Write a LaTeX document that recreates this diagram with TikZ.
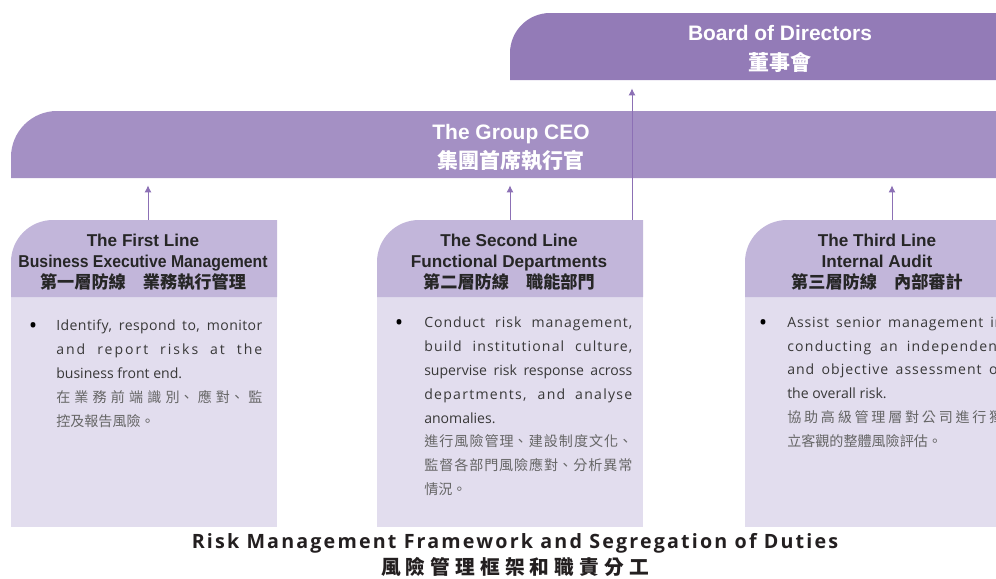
\documentclass[tikz,border=0pt]{standalone}
\usepackage{graphicx}
\usepackage{fontspec}
\setmainfont{Open Sans}
\newfontfamily\arialbf{Liberation Sans}
\newfontfamily\cjk{Noto Sans CJK TC}
\usetikzlibrary{arrows.meta}
\XeTeXlinebreaklocale "zh"
\XeTeXlinebreakskip=0pt plus 2pt
\hbadness=10000

\definecolor{boardc}{HTML}{937BB7}
\definecolor{ceoc}{HTML}{A490C4}
\definecolor{headc}{HTML}{C2B6DA}
\definecolor{bodyc}{HTML}{E2DDEE}
\definecolor{arrowc}{HTML}{8C70B5}
\definecolor{engc}{HTML}{383838}
\definecolor{zhc}{HTML}{666666}
\definecolor{titlec}{HTML}{231F20}

\newcommand{\spread}[2]{{\addfontfeatures{LetterSpace=#1}#2}}

\tikzset{
  bartext/.style={text=white, font=\arialbf\bfseries\fontsize{14.9}{20.8}\selectfont,
    align=center, inner sep=0pt, minimum height=1.675cm},
  headtext/.style={text=black!85, font=\arialbf\bfseries\fontsize{12.2}{14.9}\selectfont,
    align=center, inner sep=0pt},
  bodytext/.style={text=engc, font=\fontsize{10}{17}\selectfont, align=justify,
    inner sep=0pt, anchor=north west, text width=5.2cm},
  bulletdot/.style={text=black, font=\fontsize{16}{17}\selectfont, inner sep=0pt, anchor=base},
  titletext/.style={text=titlec, font=\bfseries\fontsize{14}{17}\selectfont, inner sep=0pt},
  arr/.style={draw=arrowc, line width=0.7pt, -{Latex[length=5pt,width=5pt]}},
}

\begin{document}
\begin{tikzpicture}[x=0.025cm, y=-0.025cm]
    \useasboundingbox (0,0) rectangle (996,579);
    \clip (0,0) rectangle (996,579);

    % bars
    \fill[boardc] (510,80) -- (510,53) .. controls (510,31) and (528,13) .. (550,13)
          -- (1050,13) -- (1050,80) -- cycle;
    \fill[ceoc] (11,178) -- (11,157) .. controls (11,131.6) and (31.6,111) .. (57,111)
          -- (1011,111) -- (1011,178) -- cycle;

    % three lines of defence
    \foreach \x in {11,377,745} {
      \fill[bodyc] (\x,297) rectangle (\x+266,527);
      \fill[headc] (\x,297) -- (\x,262) .. controls (\x,238.8) and (\x+18.8,220) .. (\x+42,220)
            -- (\x+266,220) -- (\x+266,297) -- cycle;
    }

    \node[bartext, minimum width=13.5cm] (board) at (780,49)
          {Board of Directors\\{\cjk 董事會}};
    \node[bartext, minimum width=25cm] (ceo) at (511,148)
          {The Group CEO\\{\cjk 集團首席執行官}};

    \node[headtext] (hdA) at (143,262)
          {The First Line\\\scalebox{0.92}[1]{Business Executive Management}\\{\cjk 第一層防線\quad 業務執行管理}};
    \node[headtext] (hdB) at (509,262)
          {The Second Line\\Functional Departments\\{\cjk 第二層防線\quad 職能部門}};
    \node[headtext] (hdC) at (877,262)
          {The Third Line\\Internal Audit\\{\cjk 第三層防線\quad 內部審計}};

    \node[bulletdot] (dtA) at (33,333) {•};
    \node[bodytext, text width=5.15cm] (txA) at (56,319.5)
          {\spread{3}{Identify, respond to, monitor}\linebreak \spread{14}{and report risks at the}\linebreak
           business front end.\\{\cjk\color{zhc}在業務前端識別、應對、監\linebreak 控及報告風險。}};
    \node[bulletdot] (dtB) at (399,330) {•};
    \node[bodytext] (txB) at (424,316.5)
          {\spread{7}{Conduct risk management,}\linebreak \spread{8}{build institutional culture,}\linebreak
           supervise risk response across\linebreak \spread{9}{departments, and analyse}\linebreak
           anomalies.\\{\cjk\color{zhc}進行風險管理、建設制度文化、\linebreak 監督各部門風險應對、分析異常\linebreak 情況。}};
    \node[bulletdot] (dtC) at (763,330) {•};
    \node[bodytext, text width=5.4cm] (txC) at (787,316.5)
          {\spread{6}{Assist senior management in}\linebreak \spread{9}{conducting an independent}\linebreak
           \spread{7}{and objective assessment of}\linebreak the overall risk.\\{\cjk\color{zhc}協助高級管理層對公司進行獨\linebreak 立客觀的整體風險評估。}};

    % reporting lines
    \coordinate (upA) at (148,220);
    \coordinate (upB) at (510,220);
    \coordinate (upC) at (892,220);
    \coordinate (upD) at (632,220);
    \draw[arr, shorten >=0.09cm] (upA) -- (upA |- ceo.south);
    \draw[arr, shorten >=0.09cm] (upB) -- (upB |- ceo.south);
    \draw[arr, shorten >=0.09cm] (upC) -- (upC |- ceo.south);
    \draw[arr, shorten >=0.14cm] (upD) -- (upD |- board.south);

    \node[titletext] (ttl) at (515,543)
          {\addfontfeatures{LetterSpace=11}Risk Management Framework and Segregation of Duties};
    \node[titletext] (ttlzh) at (515,567)
          {\cjk\addfontfeatures{LetterSpace=26}風險管理框架和職責分工};
\end{tikzpicture}
\end{document}
